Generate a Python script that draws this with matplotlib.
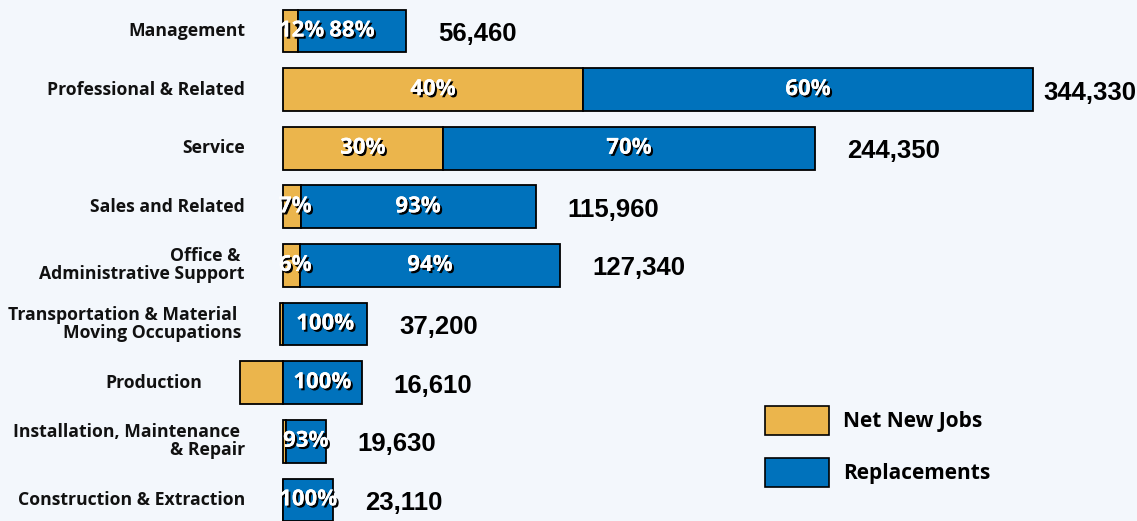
import matplotlib.pyplot as plt
import matplotlib.patheffects as pe
from matplotlib.patches import Patch

# occupation groups, top to bottom
categories = ["Management", "Professional & Related", "Service", "Sales and Related",
              "Office & \nAdministrative Support",
              "Transportation & Material \nMoving Occupations", "Production",
              "Installation, Maintenance \n& Repair", "Construction & Extraction"]
totals = [56460, 344330, 244350, 115960, 127340, 37200, 16610, 19630, 23110]
net_new = [6780, 137730, 73310, 8120, 7640, -1500, -19500, 1370, 0]
replacements = [49680, 206600, 171040, 107840, 119700, 38700, 36110, 18260, 23110]
net_pct = ["12%", "40%", "30%", "7%", "6%", "", "", "", ""]
repl_pct = ["88%", "60%", "70%", "93%", "94%", "100%", "100%", "93%", "100%"]

yellow = "#EBB54C"
blue = "#0072BC"
bg = "#F3F7FC"

fig = plt.figure(figsize=(11.37, 5.21), dpi=100, facecolor=bg)
ax = fig.add_axes([0, 0, 1, 1])
ax.set_facecolor(bg)
ax.set_xlim(-129900, 392100)
ax.set_ylim(8.36, -0.53)
ax.axis("off")

ypos = list(range(len(categories)))
h = 0.73
repl_left = [max(0, n) for n in net_new]

ax.barh(ypos, net_new, height=h, color=yellow, edgecolor="black", linewidth=1.3)
ax.barh(ypos, replacements, left=repl_left, height=h, color=blue, edgecolor="black", linewidth=1.3)

shadow = [pe.withSimplePatchShadow(offset=(1.5, -1.5), shadow_rgbFace="black", alpha=1.0), pe.Normal()]
pct_font = dict(family="Open Sans", weight="bold", size=16, color="white")

for i in ypos:
    # category label, right aligned left of the bar
    ax.annotate(categories[i], (min(0, net_new[i]), i), xytext=(-38, 0), textcoords="offset pixels",
                ha="right", va="center", family="Open Sans", weight="bold", size=12.7,
                linespacing=1.0, color="#111111")
    # percentages
    if net_pct[i]:
        if net_new[i] > 20000:
            ax.text(net_new[i] / 2, i, net_pct[i], ha="center", va="center", path_effects=shadow, **pct_font)
        else:
            ax.annotate(net_pct[i], (0, i), xytext=(-4, 0), textcoords="offset pixels",
                        ha="left", va="center", path_effects=shadow, **pct_font)
    ax.text(repl_left[i] + replacements[i] / 2, i, repl_pct[i], ha="center", va="center",
            path_effects=shadow, **pct_font)
    # total
    gap = 10 if totals[i] > 300000 else 32
    ax.annotate(f"{totals[i]:,}", (repl_left[i] + replacements[i], i), xytext=(gap, -3),
                textcoords="offset pixels", ha="left", va="center",
                family="Liberation Sans", weight="bold", size=18.5, color="black")

handles = [Patch(facecolor=yellow, edgecolor="black", linewidth=1.2, label="Net New Jobs"),
           Patch(facecolor=blue, edgecolor="black", linewidth=1.2, label="Replacements")]
leg = fig.legend(handles=handles, loc="upper left", bbox_to_anchor=(765 / 1137, 1 - 406 / 521),
                 frameon=False, borderpad=0, borderaxespad=0, handlelength=3.08, handleheight=1.75,
                 handletextpad=0.65, labelspacing=1.1,
                 prop=dict(family="Open Sans", weight="bold", size=15))

fig.savefig("out.png", dpi=100, facecolor=bg)
